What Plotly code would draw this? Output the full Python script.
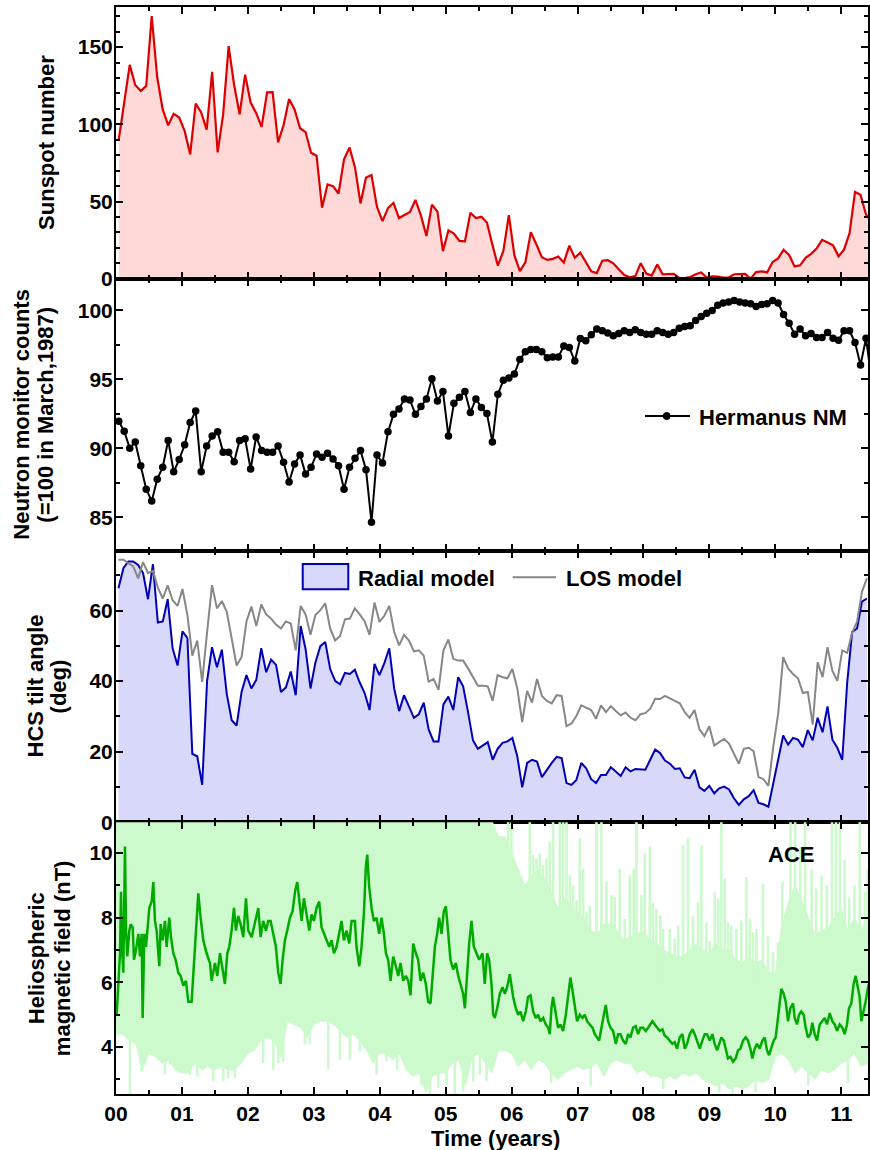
import numpy as np
import plotly.graph_objects as go
from plotly.subplots import make_subplots

# ---------------- data ----------------
# monthly values, Jan 2000 .. Jun 2011
sunspot = [90.1, 112.9, 138.5, 125.5, 121.6, 124.9, 170.1, 130.5, 109.7, 99.4, 106.8, 104.4,
           95.6, 80.6, 113.5, 107.7, 96.6, 134.0, 81.8, 106.4, 150.7, 125.5, 106.5, 132.2,
           114.1, 107.4, 98.4, 120.7, 120.8, 88.3, 99.6, 116.4, 109.6, 97.5, 95.0, 81.6,
           79.7, 46.0, 61.1, 60.0, 55.2, 77.4, 85.0, 72.1, 48.8, 65.6, 67.2, 46.5,
           37.3, 45.8, 49.1, 39.3, 41.5, 43.2, 51.1, 40.9, 27.7, 48.0, 43.5, 17.9,
           31.3, 29.2, 24.5, 24.2, 42.7, 39.3, 40.1, 36.4, 22.1, 8.5, 18.0, 41.2,
           15.3, 4.9, 10.6, 30.2, 22.3, 13.9, 12.2, 12.9, 14.4, 10.5, 21.4, 13.6,
           16.9, 10.6, 4.8, 3.7, 11.7, 12.0, 10.0, 6.2, 2.4, 0.9, 1.7, 10.1,
           3.4, 2.1, 9.3, 2.9, 2.9, 3.1, 0.5, 0.5, 1.1, 2.9, 4.1, 0.8,
           1.5, 1.4, 0.7, 0.8, 2.9, 2.9, 3.2, 0.0, 4.3, 4.8, 4.1, 10.8,
           13.2, 18.8, 15.4, 8.0, 8.7, 13.6, 16.1, 19.6, 25.2, 23.5, 21.6, 14.5,
           19.0, 29.4, 56.2, 54.4, 41.6, 37.0]

neutron = [91.97, 91.24, 90.02, 90.46, 88.75, 87.04, 86.18, 87.77, 88.63, 90.58, 88.31, 89.19,
           90.26, 91.88, 92.71, 88.31, 90.17, 90.90, 91.20, 89.73, 89.73, 89.04, 90.58, 90.70,
           88.50, 90.83, 89.85, 89.73, 89.73, 90.17, 88.99, 87.57, 88.87, 89.53, 88.14, 88.63,
           89.60, 89.36, 89.65, 89.24, 88.75, 87.04, 88.63, 89.29, 89.85, 88.45, 84.64, 89.53,
           88.94, 91.20, 92.47, 92.86, 93.59, 93.51, 92.47, 93.03, 93.59, 95.05, 93.44, 94.13,
           90.90, 93.27, 93.71, 94.13, 92.61, 93.59, 92.96, 92.54, 90.46, 93.93, 94.94, 95.10,
           95.40, 96.45, 97.01, 97.18, 97.18, 97.01, 96.57, 96.62, 96.62, 97.43, 97.31, 96.33,
           97.97, 97.80, 98.24, 98.65, 98.53, 98.36, 98.17, 98.33, 98.53, 98.41, 98.60, 98.41,
           98.28, 98.28, 98.53, 98.41, 98.28, 98.41, 98.72, 98.83, 98.90, 99.27, 99.56, 99.80,
           100.00, 100.37, 100.54, 100.61, 100.73, 100.61, 100.54, 100.48, 100.29, 100.44, 100.48, 100.73,
           100.54, 99.71, 99.07, 98.28, 98.65, 98.17, 98.33, 98.04, 98.04, 98.41, 97.99, 97.84,
           98.53, 98.53, 97.67, 96.04, 97.99, 95.00]

# HCS tilt angle, one value per Carrington rotation (starting with the first rotation of 2000)
tilt_radial = [66.3, 72.0, 73.9, 73.9, 72.9, 70.6, 63.2, 73.1, 56.6, 56.9, 63.2, 49.3, 44.4, 54.1, 52.2,
               19.4, 18.7, 10.6, 40.1, 49.6, 43.9, 48.9, 36.3, 28.9, 27.4, 36.9, 41.7, 37.9, 40.4, 49.3,
               42.5, 46.1, 44.6, 36.9, 38.2, 42.7, 36.0, 55.6, 49.1, 37.9, 45.3, 49.9, 51.1, 43.4, 40.1,
               39.1, 42.3, 42.0, 43.2, 39.6, 36.6, 31.8, 44.9, 41.7, 45.1, 49.3, 37.9, 31.5, 36.0, 32.9,
               29.6, 30.6, 33.9, 26.3, 22.9, 22.9, 33.4, 35.6, 31.8, 41.1, 38.5, 31.2, 23.2, 20.8, 21.7,
               22.7, 17.7, 20.8, 22.5, 22.9, 23.9, 18.7, 9.9, 16.8, 17.7, 17.2, 12.8, 14.9, 16.8, 18.5,
               18.2, 11.1, 10.6, 12.0, 16.8, 15.3, 12.2, 11.1, 13.4, 13.4, 15.6, 14.4, 13.1, 15.6, 14.4,
               15.1, 14.9, 14.9, 17.7, 20.6, 19.6, 17.5, 16.6, 15.1, 15.3, 12.7, 12.5, 14.9, 9.9, 8.9,
               10.3, 8.2, 9.6, 10.1, 9.3, 6.8, 4.9, 6.5, 7.4, 9.1, 5.5, 5.1, 4.4, 11.1, 17.7,
               24.6, 22.0, 23.9, 23.4, 21.3, 26.1, 23.2, 29.6, 25.5, 32.8, 23.4, 21.1, 17.7, 39.6, 53.9,
               54.9, 62.5, 63.4]
tilt_los = [74.4, 74.4, 73.4, 72.5, 69.1, 73.7, 70.6, 71.2, 66.5, 63.4, 67.1, 62.9, 61.3, 66.1, 58.7,
            47.2, 51.5, 39.8, 53.9, 67.2, 60.6, 62.7, 59.6, 52.0, 44.4, 46.8, 56.9, 61.1, 55.6, 61.7,
            58.9, 57.7, 56.0, 54.9, 56.9, 56.3, 48.7, 61.3, 58.9, 53.1, 58.7, 60.1, 62.0, 54.9, 51.5,
            52.8, 57.5, 57.7, 60.6, 58.9, 56.9, 53.1, 62.3, 56.8, 58.5, 61.3, 53.9, 50.1, 53.1, 51.5,
            48.4, 48.7, 47.2, 39.8, 40.6, 37.5, 48.7, 51.8, 46.3, 45.8, 45.8, 43.6, 41.1, 38.7, 38.7,
            38.5, 34.4, 41.7, 41.1, 40.8, 43.4, 37.9, 28.4, 37.2, 33.9, 40.6, 35.8, 34.4, 33.7, 36.0,
            35.8, 27.2, 28.0, 30.1, 33.1, 32.5, 31.8, 29.3, 33.1, 31.2, 32.9, 31.5, 30.3, 31.1, 29.6,
            28.9, 30.6, 30.9, 32.2, 35.0, 34.9, 35.8, 35.0, 34.4, 33.7, 31.2, 29.6, 31.8, 26.3, 24.4,
            27.2, 21.7, 22.7, 23.6, 22.3, 19.4, 16.6, 20.8, 21.1, 20.1, 12.8, 12.2, 10.3, 21.5, 30.9,
            46.8, 43.6, 42.0, 40.8, 36.6, 36.9, 27.7, 45.3, 41.1, 49.6, 42.9, 40.1, 48.7, 48.0, 53.7,
            56.8, 65.3, 69.1]
carrington_days = 27.2753

# ACE heliospheric magnetic field: smoothed curve (time in years after 2000.0, nT)
hmf_time = [0.010, 0.035, 0.061, 0.076, 0.091, 0.111, 0.136, 0.152, 0.172, 0.202, 0.222, 0.253, 0.273,
            0.303, 0.339, 0.364, 0.389, 0.404, 0.430, 0.455, 0.475, 0.505, 0.541, 0.566, 0.591, 0.616,
            0.657, 0.677, 0.707, 0.743, 0.768, 0.808, 0.834, 0.869, 0.904, 0.945, 0.980, 1.021, 1.061,
            1.097, 1.147, 1.182, 1.213, 1.248, 1.283, 1.324, 1.374, 1.425, 1.450, 1.501, 1.536, 1.577,
            1.617, 1.652, 1.688, 1.718, 1.753, 1.789, 1.819, 1.854, 1.890, 1.930, 1.971, 2.006, 2.057,
            2.092, 2.158, 2.193, 2.233, 2.274, 2.309, 2.345, 2.385, 2.425, 2.461, 2.496, 2.527, 2.562,
            2.597, 2.638, 2.678, 2.719, 2.749, 2.779, 2.815, 2.850, 2.891, 2.931, 2.966, 3.002, 3.042,
            3.082, 3.118, 3.153, 3.194, 3.234, 3.269, 3.305, 3.345, 3.386, 3.421, 3.456, 3.497, 3.537,
            3.573, 3.623, 3.648, 3.689, 3.724, 3.759, 3.790, 3.810, 3.840, 3.876, 3.911, 3.951, 3.992,
            4.027, 4.063, 4.093, 4.128, 4.164, 4.204, 4.245, 4.280, 4.315, 4.356, 4.396, 4.432, 4.467,
            4.507, 4.548, 4.583, 4.619, 4.659, 4.699, 4.735, 4.770, 4.800, 4.836, 4.871, 4.901, 4.937,
            4.972, 5.003, 5.038, 5.073, 5.114, 5.154, 5.190, 5.225, 5.265, 5.291, 5.316, 5.356, 5.392,
            5.427, 5.467, 5.508, 5.558, 5.593, 5.629, 5.659, 5.695, 5.720, 5.745, 5.781, 5.821, 5.862,
            5.897, 5.932, 5.973, 5.998, 6.023, 6.064, 6.099, 6.134, 6.175, 6.215, 6.250, 6.286, 6.326,
            6.367, 6.402, 6.437, 6.478, 6.518, 6.554, 6.579, 6.604, 6.629, 6.670, 6.705, 6.741, 6.781,
            6.822, 6.857, 6.892, 6.923, 6.958, 6.993, 7.034, 7.074, 7.109, 7.145, 7.185, 7.226, 7.261,
            7.296, 7.327, 7.362, 7.397, 7.428, 7.463, 7.499, 7.539, 7.580, 7.615, 7.650, 7.691, 7.731,
            7.766, 7.802, 7.842, 7.883, 7.918, 7.953, 7.994, 8.034, 8.070, 8.105, 8.135, 8.171, 8.206,
            8.246, 8.287, 8.322, 8.358, 8.398, 8.438, 8.474, 8.509, 8.550, 8.590, 8.625, 8.661, 8.701,
            8.742, 8.777, 8.812, 8.853, 8.893, 8.929, 8.964, 9.004, 9.045, 9.080, 9.116, 9.146, 9.181,
            9.217, 9.257, 9.282, 9.318, 9.358, 9.398, 9.434, 9.469, 9.510, 9.550, 9.585, 9.621, 9.651,
            9.686, 9.722, 9.762, 9.803, 9.838, 9.873, 9.904, 9.939, 9.974, 10.005, 10.040, 10.065,
            10.091, 10.126, 10.157, 10.192, 10.227, 10.268, 10.293, 10.328, 10.359, 10.394, 10.430,
            10.460, 10.495, 10.531, 10.561, 10.596, 10.632, 10.672, 10.713, 10.748, 10.783, 10.824,
            10.864, 10.899, 10.935, 10.975, 11.016, 11.051, 11.086, 11.117, 11.152, 11.187, 11.218,
            11.253, 11.278, 11.304, 11.329, 11.369, 11.405, 11.430]
hmf_smooth = [5.0, 5.85, 6.9, 8.8, 7.1, 6.3, 10.2, 7.6, 6.8, 7.6, 7.8, 7.7, 6.7,
              7.0, 7.5, 6.8, 7.5, 4.9, 7.5, 7.1, 7.5, 8.3, 8.5, 9.1, 7.9, 7.6,
              6.5, 7.8, 7.3, 7.9, 7.1, 8.0, 7.4, 6.9, 6.7, 6.3, 6.2, 5.9, 6.05,
              5.4, 5.4, 6.7, 7.6, 8.75, 8.0, 7.3, 6.9, 6.6, 6.05, 6.6, 6.2, 6.9,
              6.4, 5.95, 6.9, 7.1, 7.6, 8.3, 7.6, 8.05, 7.8, 7.4, 8.6, 7.6, 7.4,
              7.7, 8.3, 7.4, 7.9, 7.6, 7.9, 7.9, 7.5, 7.1, 6.3, 5.95, 6.7, 7.3,
              7.6, 8.0, 8.2, 8.85, 9.1, 8.5, 7.9, 8.6, 8.1, 7.6, 8.1, 7.9, 8.3,
              8.5, 7.7, 7.5, 7.3, 7.1, 7.3, 6.9, 7.1, 7.5, 7.9, 7.3, 7.6, 7.2,
              7.9, 7.9, 7.1, 6.5, 7.1, 8.1, 9.6, 9.95, 8.95, 8.3, 7.9, 8.0, 7.5,
              8.0, 7.5, 6.9, 6.7, 6.05, 6.8, 6.5, 6.2, 6.6, 6.05, 6.2, 6.05, 5.6,
              7.2, 6.9, 6.7, 6.05, 6.3, 5.95, 5.4, 5.35, 6.2, 7.1, 7.5, 8.0, 7.5,
              8.2, 8.35, 7.5, 6.7, 6.4, 6.6, 6.2, 5.95, 5.65, 5.2, 6.05, 7.2, 7.9,
              7.1, 6.9, 6.7, 6.9, 5.95, 6.9, 6.7, 5.95, 5.0, 4.9, 5.2, 5.65, 5.85,
              5.65, 5.85, 6.25, 5.85, 5.55, 5.2, 5.0, 5.1, 4.8, 5.1, 5.55, 5.6, 5.1,
              4.9, 5.0, 4.8, 4.9, 4.7, 4.6, 4.4, 5.2, 5.55, 5.0, 4.6, 4.7, 4.5,
              5.0, 5.55, 6.15, 5.75, 5.2, 4.8, 5.0, 4.9, 5.0, 4.8, 4.7, 4.6, 4.4,
              4.3, 4.2, 4.6, 5.0, 5.3, 4.8, 4.6, 4.5, 4.1, 4.4, 4.4, 4.2, 4.1,
              4.4, 4.3, 4.6, 4.65, 4.4, 4.6, 4.6, 4.5, 4.6, 4.7, 4.8, 4.7, 4.6,
              4.5, 4.55, 4.35, 4.3, 4.2, 4.1, 4.15, 3.95, 4.3, 4.4, 3.95, 4.1, 4.4,
              4.55, 4.4, 4.2, 3.95, 4.2, 4.4, 4.4, 4.2, 4.4, 4.1, 3.9, 4.1, 4.3,
              4.2, 3.9, 3.65, 3.7, 3.55, 3.65, 3.9, 3.95, 4.2, 4.3, 4.2, 3.95, 3.65,
              3.95, 4.1, 3.95, 4.2, 4.3, 3.9, 3.75, 3.95, 4.2, 4.3, 4.9, 5.2,
              5.8, 5.65, 5.4, 4.8, 5.2, 5.35, 4.9, 4.7, 5.0, 5.1, 5.0,
              4.6, 4.3, 4.4, 4.75, 4.4, 4.2, 4.7, 4.8, 4.9, 4.7, 5.05,
              4.8, 4.7, 4.5, 4.7, 4.6, 4.4, 4.7, 5.2, 5.35, 5.95, 6.2,
              5.85, 5.55, 4.8, 5.0, 5.4, 5.85, 6.05]

# ACE raw data: dense range (lower / upper edge), every 0.1 yr from 2000.0
hmf_band_step = 0.1
hmf_low = [4.4, 4.4, 4.2, 4.1, 3.3, 3.8, 3.7, 3.5, 3.6, 3.3,
           3.2, 3.2, 3.5, 3.3, 3.4, 3.3, 3.4, 3.3, 3.3, 3.5,
           3.8, 3.9, 4.2, 4.3, 4.2, 3.7, 4.8, 4.7, 4.6, 4.3,
           4.7, 4.8, 4.8, 4.7, 4.5, 4.3, 4.4, 4.2, 3.9, 3.5,
           3.8, 3.8, 3.6, 3.8, 3.3, 3.1, 3.2, 2.6, 3.1, 3.2,
           3.2, 3.5, 3.6, 2.8, 3.7, 3.8, 3.5, 3.2, 3.9, 3.9,
           3.8, 3.4, 3.6, 3.3, 3.6, 3.5, 3.2, 3.0, 3.2, 3.3,
           3.4, 3.3, 3.4, 3.5, 3.1, 3.5, 3.6, 3.5, 3.5, 3.2,
           3.3, 3.1, 3.1, 3.0, 3.1, 3.0, 3.2, 3.1, 3.2, 3.0,
           2.9, 2.8, 2.9, 2.7, 2.8, 2.7, 2.8, 3.0, 2.9, 3.0,
           3.7, 3.8, 3.6, 3.2, 3.4, 3.2, 3.0, 3.3, 3.2, 3.3,
           3.5, 3.6, 3.8, 3.4, 3.5]
hmf_high = [12] * 56 + [
           12, 11.0, 10.5, 10.5,
           10.0, 9.5, 9.0, 9.3, 9.5, 9.2, 8.8, 8.3, 8.6, 8.4,
           8.2, 8.0, 7.6, 7.5, 7.8, 7.8, 7.6, 7.3, 7.4, 7.5,
           7.6, 7.3, 7.2, 7.0, 6.9, 6.8, 6.8, 7.0, 7.2, 7.0,
           6.9, 7.2, 7.0, 7.0, 6.7, 6.6, 6.8, 6.6, 6.7, 6.3,
           6.3, 7.8, 8.5, 9.0, 8.5, 8.0, 7.5, 7.6, 7.7, 8.0,
           8.3, 7.6, 8.0, 7.6, 8.0]
# individual high excursions (years after 2000.0, nT)
hmf_peak_time = [5.720, 5.821, 5.897, 5.947, 5.998, 6.074, 6.149, 6.200, 6.276, 6.326, 6.377, 6.427,
                 6.478, 6.528, 6.579, 6.629, 6.680, 6.730, 6.781, 6.832, 6.882, 6.933, 6.983, 7.034,
                 7.084, 7.135, 7.185, 7.236, 7.286, 7.362, 7.438, 7.514, 7.564, 7.640, 7.716, 7.791,
                 7.852, 7.893, 7.968, 8.019, 8.095, 8.145, 8.196, 8.256, 8.297, 8.398, 8.474, 8.524,
                 8.600, 8.676, 8.751, 8.827, 8.878, 8.954, 9.004, 9.080, 9.130, 9.181, 9.232, 9.282,
                 9.333, 9.409, 9.484, 9.560, 9.610, 9.661, 9.712, 9.813, 9.888, 9.964, 10.040, 10.107,
                 10.158, 10.23, 10.30, 10.38, 10.45, 10.55, 10.62, 10.70, 10.78, 10.86, 10.92, 10.98,
                 11.05, 11.12, 11.20, 11.28, 11.36, 11.40]
hmf_peak_value = [7.86, 9.21, 9.52, 11.5, 11.5, 9.11, 8.17, 8.38, 11.5, 9.94, 9.83, 9.99,
                  9.63, 9.83, 10.35, 11.5, 7.65, 11.5, 11.5, 11.5, 9.31, 9.00, 8.53, 10.46,
                  9.52, 8.17, 8.38, 7.55, 11.5, 11.5, 9.11, 8.69, 8.64, 9.52, 7.96, 9.31,
                  9.52, 11.5, 8.69, 9.99, 10.20, 8.48, 8.28, 8.07, 7.65, 7.65, 7.34, 7.76,
                  10.25, 10.46, 8.07, 8.48, 10.25, 7.86, 7.29, 8.79, 8.59, 11.5, 9.21, 7.86,
                  7.76, 7.65, 7.91, 9.26, 7.96, 7.55, 7.65, 9.05, 7.44, 6.93, 7.24, 9.11,
                  7.13, 11.5, 11.5, 10.2, 11.5, 9.5, 8.9, 9.3, 9.0, 11.5, 11.5, 11.5,
                  9.8, 8.6, 9.0, 11.5, 8.8, 9.5]
# individual low excursions (years after 2000.0, nT)
hmf_dip_time = [0.212, 0.389, 0.541, 0.667, 0.743, 0.819, 0.945, 1.021, 1.122, 1.233, 1.374, 1.475,
                1.627, 1.703, 1.804, 1.930, 2.021, 2.233, 2.385, 2.461, 2.537, 2.865, 2.941, 3.219,
                3.396, 3.547, 3.699, 3.952, 4.103, 4.265, 4.457, 4.634, 4.760, 4.886, 5.013, 5.139,
                5.265, 5.417, 5.518, 5.619, 6.6, 7.2, 8.3, 9.15, 9.35, 9.5, 9.7, 10.5, 11.1]
hmf_dip_value = [2.42, 3.25, 3.98, 4.29, 3.15, 3.46, 3.25, 3.2, 3.15, 3.09, 3.56, 2.94,
                 2.94, 3.04, 3.04, 3.77, 4.29, 3.51, 3.3, 3.51, 3.56, 4.08, 4.08, 3.33,
                 3.61, 3.61, 3.87, 3.15, 3.56, 3.3, 3.56, 2.83, 2.42, 2.73, 2.83, 2.42,
                 2.63, 2.94, 3.15, 2.94, 2.9, 2.8, 2.7, 2.6, 2.5, 2.6, 2.6, 2.8, 2.9]

year_ticks = list(range(2000, 2012))
year_labels = ["%02d" % (y - 2000) for y in year_ticks]

# ---------------- derived time axes ----------------
month_t = 2000 + (np.arange(len(sunspot)) + 0.5) / 12.0          # mid-month
rot_t = 2000 + (np.arange(len(tilt_radial)) + 0.5) * carrington_days / 365.25  # mid-rotation
hmf_t = 2000 + np.array(hmf_time)
band_t = 2000 + np.arange(len(hmf_low)) * hmf_band_step

SPIKE_BASE_HIGH = 6.0
SPIKE_BASE_LOW = 5.0
peak_x, peak_y = [], []
for t, v in zip(hmf_peak_time, hmf_peak_value):
    peak_x += [2000 + t, 2000 + t, None]
    peak_y += [SPIKE_BASE_HIGH, v, None]
dip_x, dip_y = [], []
for t, v in zip(hmf_dip_time, hmf_dip_value):
    dip_x += [2000 + t, 2000 + t, None]
    dip_y += [SPIKE_BASE_LOW, v, None]

FONT = "Liberation Sans, Arial, sans-serif"
LIGHT_GREEN = "rgb(205,250,205)"
BLUE = "rgb(0,0,180)"
BLUE_FILL = "rgb(216,216,250)"
GRAY = "rgb(135,135,135)"

fig = make_subplots(rows=4, cols=1, shared_xaxes=True, vertical_spacing=0)

# Panel 1: sunspots
fig.add_trace(go.Scatter(x=month_t, y=sunspot, mode="lines", fill="tozeroy",
                         line=dict(color="rgb(220,0,0)", width=2.2),
                         fillcolor="rgb(255,216,216)", showlegend=False), row=1, col=1)

# Panel 2: neutron monitor
fig.add_trace(go.Scatter(x=month_t, y=neutron, mode="lines+markers", name="Hermanus NM",
                         line=dict(color="black", width=2),
                         marker=dict(color="black", size=7.5), showlegend=False), row=2, col=1)

# Panel 3: tilt angles
fig.add_trace(go.Scatter(x=rot_t, y=tilt_radial, mode="lines", fill="tozeroy", name="Radial model",
                         line=dict(color=BLUE, width=2), fillcolor=BLUE_FILL,
                         showlegend=False), row=3, col=1)
fig.add_trace(go.Scatter(x=rot_t, y=tilt_los, mode="lines", name="LOS model",
                         line=dict(color=GRAY, width=2), showlegend=False), row=3, col=1)

# Panel 4: HMF
fig.add_trace(go.Scatter(x=band_t, y=hmf_low, mode="lines",
                         line=dict(color=LIGHT_GREEN, width=1),
                         showlegend=False, hoverinfo="skip"), row=4, col=1)
fig.add_trace(go.Scatter(x=band_t, y=hmf_high, mode="lines", fill="tonexty",
                         line=dict(color=LIGHT_GREEN, width=1), fillcolor=LIGHT_GREEN,
                         showlegend=False, hoverinfo="skip"), row=4, col=1)
fig.add_trace(go.Scatter(x=peak_x, y=peak_y, mode="lines", connectgaps=False,
                         line=dict(color=LIGHT_GREEN, width=2.6),
                         showlegend=False, hoverinfo="skip"), row=4, col=1)
fig.add_trace(go.Scatter(x=dip_x, y=dip_y, mode="lines", connectgaps=False,
                         line=dict(color=LIGHT_GREEN, width=2.6),
                         showlegend=False, hoverinfo="skip"), row=4, col=1)
fig.add_trace(go.Scatter(x=hmf_t, y=hmf_smooth, mode="lines",
                         line=dict(color="rgb(0,170,0)", width=2.5),
                         showlegend=False), row=4, col=1)

tickfont = dict(family=FONT, size=21, color="black", weight="bold")
axis_common = dict(showline=True, linewidth=2, linecolor="black", mirror="ticks",
                   ticks="inside", ticklen=7, tickwidth=2, tickcolor="black",
                   showgrid=False, zeroline=False, tickfont=tickfont, automargin=False)
minor_common = dict(ticks="inside", ticklen=4, tickwidth=2, tickcolor="black")

for r in range(1, 5):
    fig.update_xaxes(range=[2000, 2011.405], tickvals=year_ticks, ticktext=year_labels,
                     minor=dict(dtick=0.5, tick0=2000, **minor_common),
                     ticklabelstandoff=0, **axis_common, row=r, col=1)

fig.update_yaxes(range=[0, 176], dtick=50, tick0=0, minor=dict(dtick=10, **minor_common),
                 ticklabelstandoff=-3, **axis_common, row=1, col=1)
fig.update_yaxes(range=[82.6, 102.3], tickvals=[85, 90, 95, 100],
                 minor=dict(dtick=2.5, tick0=80, **minor_common),
                 ticklabelstandoff=-3, **axis_common, row=2, col=1)
fig.update_yaxes(range=[0, 77], dtick=20, tick0=0, minor=dict(dtick=10, **minor_common),
                 ticklabelstandoff=-3, **axis_common, row=3, col=1)
fig.update_yaxes(range=[2.55, 10.95], dtick=2, tick0=0, minor=dict(dtick=1, **minor_common),
                 ticklabelstandoff=-3, **axis_common, row=4, col=1)

title_font = dict(family=FONT, size=22, color="black", weight="bold")
annots = [
    ("Sunspot number", -0.0917, 0.875),
    ("Neutron monitor counts", -0.125, 0.625),
    ("(=100 in March,1987)", -0.093, 0.625),
    ("HCS tilt angle", -0.1076, 0.375),
    ("(deg)", -0.0771, 0.375),
    ("Heliospheric", -0.1063, 0.125),
    ("magnetic field (nT)", -0.0718, 0.125),
]
for text, ax, ay in annots:
    fig.add_annotation(text=text, xref="paper", yref="paper", x=ax, y=ay,
                       xanchor="center", yanchor="middle", textangle=-90,
                       showarrow=False, font=title_font)
fig.add_annotation(text="Time (years)", xref="paper", yref="paper", x=0.504, y=-0.0405,
                   xanchor="center", yanchor="middle", showarrow=False, font=title_font)
fig.add_annotation(text="ACE", xref="paper", yref="paper", x=0.898, y=0.2199,
                   xanchor="center", yanchor="middle", showarrow=False, font=title_font)

# legend keys (drawn in paper coordinates)
# Hermanus NM
fig.add_shape(type="line", xref="paper", yref="paper", x0=0.7035, x1=0.7633, y0=0.6237, y1=0.6237,
              line=dict(color="black", width=2))
fig.add_shape(type="circle", xref="paper", yref="paper", xsizemode="pixel", ysizemode="pixel",
              xanchor=0.7323, yanchor=0.6237, x0=-3.5, x1=3.5, y0=-3.5, y1=3.5,
              fillcolor="black", line=dict(color="black", width=1))
fig.add_annotation(text="Hermanus NM", xref="paper", yref="paper", x=0.7722, y=0.6219,
                   xanchor="left", yanchor="middle", showarrow=False, font=title_font)
# Radial model
fig.add_shape(type="rect", xref="paper", yref="paper", x0=0.2483, x1=0.3089, y0=0.4643, y1=0.4876,
              fillcolor=BLUE_FILL, line=dict(color=BLUE, width=2))
fig.add_annotation(text="Radial model", xref="paper", yref="paper", x=0.3191, y=0.4738,
                   xanchor="left", yanchor="middle", showarrow=False, font=title_font)
# LOS model
fig.add_shape(type="line", xref="paper", yref="paper", x0=0.5275, x1=0.5851, y0=0.4753, y1=0.4753,
              line=dict(color=GRAY, width=2))
fig.add_annotation(text="LOS model", xref="paper", yref="paper", x=0.5957, y=0.4738,
                   xanchor="left", yanchor="middle", showarrow=False, font=title_font)

fig.update_layout(
    width=870, height=1150,
    margin=dict(l=116, r=2, t=7, b=56),
    plot_bgcolor="white", paper_bgcolor="white",
    font=dict(family=FONT, color="black"),
    showlegend=False,
)

# remove the browser's default 8 px page margin so the figure fills the window exactly
fig.write_html("out.html", config={"displayModeBar": False},
               post_script="document.body.style.margin='0px';")
